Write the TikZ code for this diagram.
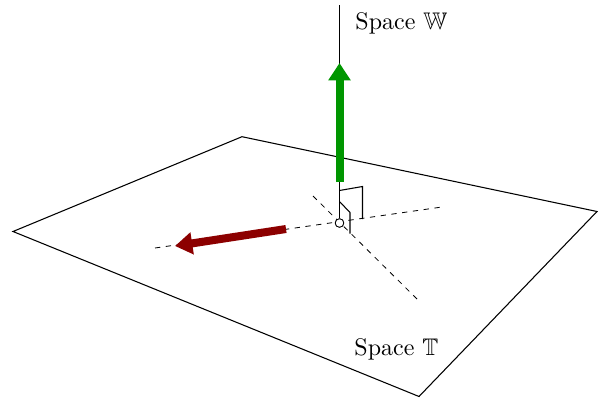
\documentclass[tikz,border=0pt]{standalone}
\usepackage{amsmath,amssymb}
\usetikzlibrary{arrows.meta}
\definecolor{NormalGreen}{HTML}{009600}
\definecolor{ProjRed}{HTML}{8C0000}
\tikzset{
  thinline/.style={line width=.8pt,black},
  axisline/.style={line width=.6pt,black,dash pattern=on 4pt off 4.14pt},
  vecline/.style={line width=6pt,-{Triangle[length=13pt,width=16pt]}},
  spacelabel/.style={anchor=west,scale=1.8,inner sep=0pt},
  origindot/.style={circle,draw,fill=white,line width=.6pt,inner sep=0pt,minimum size=6.4pt},
}
\begin{document}
\begin{tikzpicture}[x=.75pt,y=-.75pt]
\useasboundingbox (0,0) rectangle (600,397);
% plane
\coordinate (pa) at (13,231.5);
\coordinate (pb) at (242,136.7);
\coordinate (pc) at (597,211.5);
\coordinate (pd) at (419,396.5);
\draw[thinline] (pa) -- (pb) -- (pc) -- (pd) -- cycle;
% axes in the plane
\node[origindot] (origin) at (339.5,223) {};
\coordinate (ua) at (155,248);
\coordinate (ub) at (442,207);
\coordinate (va) at (313,196);
\coordinate (vb) at (417,299);
\draw[axisline] (ua) -- (ub);
\draw[axisline] (va) -- (vb);
% normal
\coordinate (top) at (339.5,5);
\draw[thinline] (top) -- (origin);
\node[origindot] at (origin) {};
% right angle marks
\coordinate (ma) at (339.5,190.5);
\coordinate (mb) at (362.5,186.5);
\coordinate (mc) at (362.5,219);
\coordinate (na) at (339.5,201.5);
\coordinate (nb) at (350,212.5);
\coordinate (nc) at (350,233.5);
\draw[thinline] (ma) -- (mb) -- (mc);
\draw[thinline] (na) -- (nb) -- (nc);
% vectors
\coordinate (ga) at (339.5,182);
\coordinate (gb) at (339.5,63);
\coordinate (ra) at (286,229);
\coordinate (rb) at (175,246);
\draw[vecline,NormalGreen] (ga) -- (gb);
\draw[vecline,ProjRed] (ra) -- (rb);
% labels
\node[spacelabel] (labelw) at (355,23.5) {Space $\mathbb{W}$};
\node[spacelabel] (labelt) at (354,349) {Space $\mathbb{T}$};
\end{tikzpicture}
\end{document}
